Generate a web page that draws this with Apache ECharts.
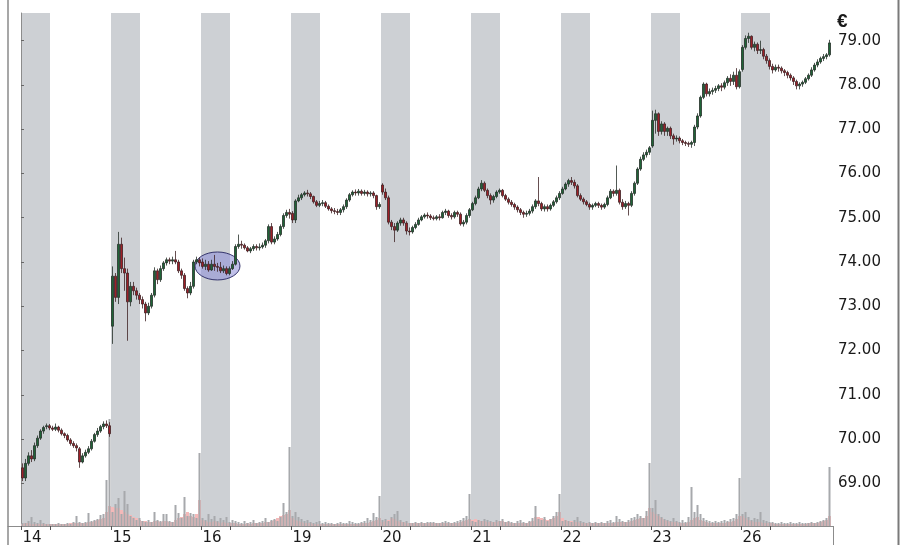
<!DOCTYPE html>
<html><head><meta charset="utf-8">
<script src="https://cdn.jsdelivr.net/npm/echarts@6/dist/echarts.min.js"></script>
<style>html,body{margin:0;padding:0;background:#fff}#c{width:901px;height:545px}</style>
</head><body><div id="c"></div>
<script>
// ---- data ----
const dayLabels = ['14','15','16','19','20','21','22','23','26'];
const priceTicks = [69,70,71,72,73,74,75,76,77,78,79];

// candles per day: [open, close, low, high]
const day14 = [[69.35,69.12,69.05,69.45],[69.12,69.45,69.05,69.55],[69.45,69.62,69.40,69.70],[69.62,69.55,69.48,69.75],[69.55,69.85,69.50,69.92],[69.85,70.02,69.80,70.08],[70.02,70.18,69.98,70.22],[70.18,70.26,70.12,70.30],[70.28,70.30,70.22,70.35],[70.30,70.25,70.20,70.34],[70.25,70.22,70.18,70.30],[70.22,70.27,70.18,70.35],[70.27,70.20,70.15,70.30],[70.20,70.12,70.08,70.24],[70.12,70.08,70.02,70.15],[70.08,69.98,69.94,70.12],[69.98,69.90,69.85,70.02],[69.90,69.85,69.80,69.95],[69.85,69.80,69.72,69.90],[69.78,69.48,69.35,69.82],[69.48,69.62,69.45,69.68],[69.62,69.70,69.58,69.76],[69.70,69.78,69.66,69.84],[69.78,69.95,69.74,70.00],[69.95,70.10,69.92,70.14],[70.10,70.18,70.05,70.25],[70.18,70.28,70.14,70.32],[70.28,70.34,70.22,70.40],[70.34,70.30,70.25,70.42],[70.30,70.12,70.05,70.38]];
const day15 = [[72.55,73.68,72.15,73.90],[73.68,73.20,73.10,73.75],[73.20,74.40,73.05,74.68],[74.40,73.85,73.75,74.55],[73.85,73.75,73.35,74.10],[73.75,73.10,72.22,73.85],[73.10,73.45,73.00,73.55],[73.45,73.35,73.25,73.55],[73.35,73.25,73.15,73.42],[73.25,73.15,73.05,73.30],[73.15,73.05,72.95,73.22],[73.05,72.85,72.66,73.10],[72.85,73.00,72.80,73.08],[73.00,73.25,72.95,73.30],[73.25,73.80,73.20,73.88],[73.80,73.60,73.50,73.85],[73.60,73.85,73.55,73.92],[73.85,73.98,73.80,74.02],[73.98,74.05,73.92,74.10],[74.05,74.02,73.95,74.10],[74.02,74.05,73.95,74.12],[74.05,74.00,73.95,74.25],[74.00,73.80,73.75,74.05],[73.80,73.70,73.62,73.85],[73.70,73.40,73.35,73.75],[73.40,73.30,73.18,73.45],[73.30,73.45,73.25,73.55],[73.45,74.00,73.40,74.05],[74.00,74.05,73.95,74.12],[74.05,73.98,73.90,74.10]];
const day16 = [[74.00,73.90,73.85,74.08],[73.90,73.95,73.82,74.05],[73.95,73.82,73.78,74.02],[73.82,73.95,73.80,74.05],[73.95,73.90,73.80,74.16],[73.90,73.88,73.78,73.98],[73.88,73.80,73.75,74.00],[73.80,73.85,73.75,73.92],[73.85,73.74,73.70,73.90],[73.74,73.85,73.70,73.90],[73.85,73.95,73.82,74.02],[73.95,74.35,73.92,74.40],[74.35,74.40,74.30,74.62],[74.40,74.38,74.30,74.48],[74.38,74.32,74.28,74.42],[74.32,74.25,74.22,74.36],[74.25,74.30,74.20,74.34],[74.30,74.35,74.25,74.40],[74.35,74.32,74.26,74.40],[74.32,74.34,74.26,74.42],[74.34,74.38,74.30,74.44],[74.38,74.48,74.32,74.52],[74.48,74.80,74.42,74.85],[74.80,74.45,74.40,74.88],[74.45,74.52,74.40,74.58],[74.52,74.62,74.48,74.68],[74.62,74.80,74.58,74.85],[74.80,75.05,74.75,75.10],[75.05,75.12,75.00,75.18],[75.12,75.08,74.98,75.20]];
const day19 = [[75.10,74.95,74.88,75.15],[74.95,75.38,74.88,75.42],[75.38,75.45,75.35,75.52],[75.45,75.52,75.40,75.56],[75.52,75.56,75.48,75.60],[75.56,75.54,75.48,75.63],[75.54,75.48,75.42,75.58],[75.48,75.36,75.32,75.50],[75.36,75.28,75.24,75.40],[75.28,75.32,75.24,75.38],[75.32,75.34,75.26,75.40],[75.34,75.26,75.22,75.38],[75.26,75.20,75.16,75.30],[75.20,75.16,75.10,75.24],[75.16,75.14,75.08,75.22],[75.14,75.12,75.06,75.20],[75.12,75.18,75.06,75.22],[75.18,75.25,75.12,75.30],[75.25,75.40,75.20,75.44],[75.40,75.52,75.36,75.56],[75.52,75.58,75.48,75.62],[75.58,75.56,75.50,75.64],[75.56,75.60,75.50,75.65],[75.60,75.55,75.50,75.64],[75.55,75.58,75.50,75.63],[75.58,75.54,75.48,75.62],[75.54,75.56,75.48,75.60],[75.56,75.50,75.44,75.60],[75.50,75.25,75.18,75.52],[75.25,75.30,75.20,75.35]];
const day20 = [[75.74,75.58,75.52,75.78],[75.58,75.45,75.40,75.66],[75.45,74.90,74.85,75.50],[74.90,74.80,74.72,74.95],[74.80,74.72,74.45,74.88],[74.72,74.88,74.68,74.92],[74.88,74.95,74.82,75.00],[74.95,74.88,74.82,75.00],[74.88,74.70,74.62,74.92],[74.70,74.68,74.60,74.78],[74.68,74.78,74.64,74.82],[74.78,74.85,74.74,74.90],[74.85,74.95,74.82,75.00],[74.95,75.02,74.92,75.06],[75.02,75.06,74.98,75.10],[75.06,75.04,74.98,75.12],[75.04,75.00,74.95,75.08],[75.00,74.98,74.94,75.05],[74.98,75.02,74.94,75.06],[75.02,75.00,74.94,75.08],[75.00,75.12,74.98,75.16],[75.12,75.15,75.06,75.20],[75.15,75.05,75.00,75.18],[75.05,75.02,74.96,75.10],[75.02,75.12,74.98,75.16],[75.12,75.08,75.02,75.16],[75.08,74.86,74.82,75.12],[74.86,74.90,74.80,74.95],[74.90,75.05,74.85,75.10],[75.05,75.18,75.00,75.22]];
const day21 = [[75.18,75.32,75.15,75.36],[75.32,75.45,75.28,75.50],[75.45,75.65,75.42,75.70],[75.65,75.78,75.60,75.85],[75.78,75.62,75.58,75.82],[75.62,75.50,75.44,75.66],[75.50,75.40,75.30,75.55],[75.40,75.48,75.34,75.52],[75.48,75.58,75.44,75.62],[75.58,75.62,75.54,75.66],[75.62,75.50,75.46,75.65],[75.50,75.42,75.38,75.54],[75.42,75.35,75.30,75.46],[75.35,75.30,75.25,75.40],[75.30,75.24,75.18,75.34],[75.24,75.18,75.12,75.28],[75.18,75.12,75.06,75.22],[75.12,75.08,75.00,75.16],[75.08,75.10,75.02,75.16],[75.10,75.15,75.05,75.20],[75.15,75.25,75.10,75.30],[75.25,75.38,75.20,75.42],[75.38,75.32,75.26,75.92],[75.32,75.20,75.15,75.36],[75.20,75.25,75.14,75.30],[75.25,75.20,75.14,75.30],[75.20,75.28,75.16,75.32],[75.28,75.36,75.24,75.40],[75.36,75.45,75.32,75.50],[75.45,75.55,75.40,75.60]];
const day22 = [[75.55,75.65,75.52,75.70],[75.65,75.76,75.62,75.80],[75.76,75.84,75.70,75.88],[75.84,75.80,75.74,75.92],[75.80,75.72,75.66,75.86],[75.72,75.50,75.46,75.76],[75.50,75.42,75.38,75.55],[75.42,75.36,75.30,75.46],[75.36,75.30,75.26,75.40],[75.30,75.24,75.18,75.34],[75.24,75.28,75.18,75.32],[75.28,75.32,75.24,75.36],[75.32,75.28,75.22,75.36],[75.28,75.24,75.18,75.32],[75.24,75.30,75.20,75.34],[75.30,75.45,75.26,75.50],[75.45,75.60,75.42,75.65],[75.60,75.55,75.48,75.64],[75.55,75.62,75.50,76.18],[75.62,75.35,75.30,75.66],[75.35,75.25,75.18,75.42],[75.25,75.32,75.20,75.38],[75.32,75.28,75.05,75.36],[75.28,75.55,75.24,75.60],[75.55,75.78,75.50,75.82],[75.78,76.10,75.74,76.14],[76.10,76.32,76.06,76.38],[76.32,76.42,76.28,76.48],[76.42,76.48,76.36,76.54],[76.48,76.58,76.42,76.62]];
const day23 = [[76.62,77.20,76.58,77.42],[77.20,77.35,76.90,77.44],[77.35,76.95,76.85,77.38],[76.95,77.12,76.88,77.18],[77.12,76.95,76.85,77.16],[76.95,77.02,76.85,77.06],[77.02,76.85,76.78,77.06],[76.85,76.78,76.65,76.90],[76.78,76.80,76.72,76.86],[76.80,76.74,76.68,76.84],[76.74,76.70,76.64,76.78],[76.70,76.68,76.62,76.74],[76.68,76.66,76.60,76.72],[76.66,76.70,76.58,76.74],[76.70,77.05,76.62,77.10],[77.05,77.30,77.00,77.36],[77.30,77.72,77.26,77.76],[77.72,78.02,77.68,78.06],[78.02,77.80,77.74,78.05],[77.80,77.85,77.74,77.92],[77.85,77.88,77.78,77.94],[77.88,77.92,77.82,77.98],[77.92,77.98,77.86,78.02],[77.98,77.95,77.86,78.04],[77.95,78.05,77.90,78.10],[78.05,78.15,77.98,78.20],[78.15,78.08,77.98,78.24],[78.08,78.22,78.00,78.30],[78.22,77.96,77.90,78.38],[77.96,78.30,77.92,78.35]];
const day26 = [[78.35,78.85,78.30,78.90],[78.85,79.05,78.80,79.12],[79.05,79.10,78.95,79.18],[79.10,78.85,78.80,79.12],[78.85,78.92,78.76,78.98],[78.92,78.78,78.70,78.96],[78.78,78.80,78.70,79.00],[78.80,78.65,78.58,78.84],[78.65,78.55,78.48,78.70],[78.55,78.42,78.35,78.60],[78.42,78.34,78.26,78.48],[78.34,78.40,78.30,78.46],[78.40,78.38,78.30,78.46],[78.38,78.32,78.26,78.42],[78.32,78.28,78.20,78.36],[78.28,78.22,78.15,78.32],[78.22,78.16,78.10,78.26],[78.16,78.08,78.00,78.20],[78.08,77.98,77.90,78.12],[77.98,78.02,77.90,78.06],[78.02,78.06,77.96,78.10],[78.06,78.14,78.02,78.18],[78.14,78.22,78.10,78.26],[78.22,78.34,78.18,78.40],[78.34,78.45,78.30,78.50],[78.45,78.52,78.40,78.58],[78.52,78.60,78.48,78.64],[78.60,78.64,78.54,78.70],[78.64,78.68,78.58,78.72],[78.68,78.95,78.64,79.02]];

// volume (thousand shares), grey and pink bars
const volG14 = [3,3,5,9,4,3,6,3,2,2,2,2,3,2,2,3,2,4,10,4,3,4,13,5,6,7,11,12,46,107];
const volP14 = [2,3,3,2,2,2,2,2,2,2,2,2,2,2,2,2,3,3,3,3,3,3,4,4,5,6,7,8,14,20];
const volG15 = [14,22,28,12,35,22,10,8,6,8,5,4,6,4,14,6,5,12,12,5,4,21,13,8,29,10,13,12,8,73];
const volP15 = [19,18,18,16,14,12,11,9,8,6,5,5,4,4,5,5,4,5,5,4,4,6,8,9,12,14,10,9,12,26];
const volG16 = [8,6,12,7,10,5,8,6,9,4,6,5,4,3,5,3,4,6,3,4,5,8,4,6,7,5,9,23,14,79];
const volP16 = [6,5,4,4,5,4,3,4,3,3,3,3,2,2,2,3,2,3,3,3,3,4,4,5,6,8,10,11,12,16];
const volG19 = [10,14,9,7,5,6,4,3,4,5,3,4,3,3,2,3,4,3,3,5,4,3,3,4,5,8,6,13,9,30];
const volP19 = [8,6,5,4,3,3,3,2,2,2,2,2,2,2,2,2,2,2,2,2,2,2,2,3,3,3,4,5,6,8];
const volG20 = [6,7,5,9,12,15,6,4,5,3,3,4,3,4,3,4,4,4,3,3,4,5,4,3,4,5,6,8,10,32];
const volP20 = [4,5,6,8,7,5,4,4,3,3,3,3,3,3,3,3,3,3,3,3,3,3,3,3,3,3,4,5,6,7];
const volG21 = [5,4,6,5,7,6,5,4,6,5,7,4,5,4,3,5,6,4,3,5,8,20,7,6,9,5,7,10,14,32];
const volP21 = [6,7,6,5,5,4,4,4,4,5,5,4,4,3,3,3,3,3,3,4,5,9,9,8,7,6,7,8,10,14];
const volG22 = [5,6,5,4,6,9,5,4,3,4,3,4,3,4,3,5,6,4,10,7,5,4,6,8,9,12,10,8,15,63];
const volP22 = [8,6,5,5,4,4,3,3,3,3,3,3,3,3,3,3,3,3,4,4,4,4,4,5,6,7,8,8,10,18];
const volG23 = [18,26,12,9,7,6,5,8,5,4,6,4,9,39,14,21,12,8,6,5,4,5,4,5,6,5,7,8,12,48];
const volP23 = [14,12,10,8,6,5,4,4,4,3,3,3,4,6,8,9,6,5,4,3,3,3,3,3,3,4,4,5,7,10];
const volG26 = [12,14,9,6,8,7,14,6,5,4,4,3,3,4,3,3,4,3,3,4,3,3,3,4,3,4,5,6,8,59];
const volP26 = [10,8,6,5,4,4,4,3,3,3,3,2,2,2,2,2,2,2,2,2,2,2,3,3,3,3,4,5,6,10];

// highlighted zone on the 16th: [centre slot, centre price, half width (slots), half height (EUR)]
const highlight = [65.5, 73.91, 7.5, 0.316];

// ---- assembly ----
const SLOTS = 30;      // candles per trading day
const MORNING = 9.67;  // shaded part of each session, in slots
const days = [day14, day15, day16, day19, day20, day21, day22, day23, day26];
const volsG = [volG14, volG15, volG16, volG19, volG20, volG21, volG22, volG23, volG26];
const volsP = [volP14, volP15, volP16, volP19, volP20, volP21, volP22, volP23, volP26];

const candles = [], gray = [], pink = [];
days.forEach((arr, d) => arr.forEach((k, i) => {
  const x = d * SLOTS + i + 0.5;
  candles.push([x, k[0], k[1], k[2], k[3]]);
  gray.push([x, volsG[d][i]]);
  pink.push([x, volsP[d][i]]);
}));
const bands = dayLabels.map((_, d) => [d * SLOTS, d * SLOTS + MORNING, 70]);
const tickVals = [];
dayLabels.forEach((_, d) => { tickVals.push(d * SLOTS, d * SLOTS + MORNING); });
const LABEL_OFF = 3.7;
const labelVals = dayLabels.map((_, d) => d * SLOTS + LABEL_OFF);

const XMIN = -4.333, XMAX = 270.667;
const FONT = 'DejaVu Sans';
const chart = echarts.init(document.getElementById('c'), null, {renderer: 'canvas'});
chart.setOption({
  animation: false,
  backgroundColor: '#ffffff',
  grid: {left: 8, right: 68, top: 13, bottom: 19, containLabel: false, outerBoundsMode: 'none'},
  xAxis: [{
    type: 'value', min: XMIN, max: XMAX, splitLine: {show: false},
    axisLine: {show: true, lineStyle: {color: '#8c8c8c', width: 1}},
    axisTick: {show: true, customValues: tickVals, length: 4, lineStyle: {color: '#555'}},
    axisLabel: {customValues: labelVals, margin: 5, color: '#1a1a1a', fontFamily: FONT, fontSize: 15,
      formatter: v => dayLabels[Math.round((v - LABEL_OFF) / SLOTS)] || ''}
  }, {
    type: 'value', min: XMIN, max: XMAX, show: false
  }],
  yAxis: [{
    type: 'value', position: 'right', min: 68.035, max: 79.626, scale: true,
    splitLine: {show: false},
    axisLine: {show: true, lineStyle: {color: '#8c8c8c', width: 1}},
    axisTick: {show: true, customValues: priceTicks, length: 3, lineStyle: {color: '#666'}},
    axisLabel: {customValues: priceTicks, margin: 5, color: '#1a1a1a', fontFamily: FONT, fontSize: 15,
      formatter: v => v.toFixed(2)}
  }, {
    type: 'value', position: 'left', min: 0, max: 513, show: false
  }],
  series: [{
    type: 'custom', name: 'sessions', z: 0, silent: true, data: bands,
    encode: {x: [0, 1], y: 2},
    renderItem: (params, api) => {
      const a = api.coord([api.value(0), 70]);
      const b = api.coord([api.value(1), 70]);
      const cs = params.coordSys;
      return {type: 'rect', shape: {x: a[0], y: cs.y, width: b[0] - a[0], height: cs.height},
        style: {fill: '#cdd0d4'}};
    }
  }, {
    type: 'bar', name: 'vol2', xAxisIndex: 1, yAxisIndex: 1, z: 1, silent: true,
    barWidth: 3, data: pink, itemStyle: {color: '#f4b9b9'}
  }, {
    type: 'bar', name: 'vol', xAxisIndex: 0, yAxisIndex: 1, z: 2, silent: true,
    barWidth: 2, data: gray, itemStyle: {color: '#a7a9ac'}
  }, {
    type: 'custom', name: 'highlight', z: 3, silent: true, data: [highlight],
    encode: {x: 0, y: 1},
    renderItem: (params, api) => {
      const c = api.coord([api.value(0), api.value(1)]);
      const s = api.size([api.value(2), api.value(3)]);
      return {type: 'ellipse', shape: {cx: c[0], cy: c[1], rx: s[0], ry: s[1]},
        style: {fill: 'rgba(140,140,215,0.55)', stroke: '#34346c', lineWidth: 1}};
    }
  }, {
    type: 'candlestick', name: 'price', z: 4, silent: true,
    data: candles, encode: {x: 0, y: [1, 2, 3, 4]},
    barWidth: 2.7,
    itemStyle: {color: '#1f6437', color0: '#9e1f27', borderColor: '#26302a', borderColor0: '#3f2224', borderWidth: 0.8}
  }],
  graphic: [
    {type: 'line', shape: {x1: 8, y1: 0, x2: 8, y2: 545}, style: {stroke: '#8a8a8a', lineWidth: 1.5}, z: 10},
    {type: 'line', shape: {x1: 833.5, y1: 526, x2: 833.5, y2: 545}, style: {stroke: '#8c8c8c', lineWidth: 1}, z: 10},
    {type: 'line', shape: {x1: 898.5, y1: 0, x2: 898.5, y2: 545}, style: {stroke: '#7a7a7a', lineWidth: 2}, z: 10},
    {type: 'text', left: 837, top: 12, style: {text: '€', font: 'bold 19px "Liberation Sans"', fill: '#1a1a1a'}, z: 10}
  ]
});
</script></body></html>
